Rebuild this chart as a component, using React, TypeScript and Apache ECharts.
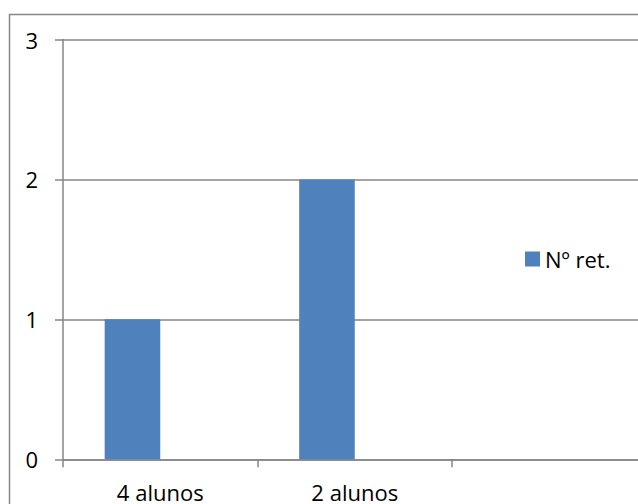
import React, { useEffect, useRef } from "react";
import * as echarts from "echarts";

const categories = ["4 alunos", "2 alunos", ""];
const retValues: (number | string)[] = [1, 2, "-"];
const emptyValues: (number | string)[] = ["-", "-", "-"];
const yTicks = { min: 0, max: 3, interval: 1 };

const FONT = "'Open Sans', Calibri, sans-serif";
const GRAY = "#868686";

export default function App() {
  const ref = useRef<HTMLDivElement>(null);

  useEffect(() => {
    if (!ref.current) return;
    const chart = echarts.init(ref.current, undefined, { renderer: "svg" });
    chart.setOption({
      animation: false,
      backgroundColor: "#ffffff",
      graphic: [
        {
          type: "rect",
          shape: { x: 9.5, y: 14.5, width: 700, height: 600 },
          style: { fill: "none", stroke: GRAY, lineWidth: 1.5 },
          silent: true,
        },
      ],
      legend: {
        data: ["Nº ret."],
        left: 525,
        top: 248,
        padding: 0,
        itemWidth: 15,
        itemHeight: 15,
        itemGap: 8,
        icon: "rect",
        textStyle: { fontFamily: FONT, fontSize: 22, color: "#000" },
      },
      // plot area runs past the right edge of the canvas
      grid: {
        left: 63,
        top: 39.5,
        width: 583.5,
        height: 419.8,
        containLabel: false,
        outerBoundsMode: "none",
      },
      xAxis: {
        type: "category",
        data: categories,
        boundaryGap: true,
        axisLine: { show: true, lineStyle: { color: GRAY, width: 1.5 } },
        axisTick: { show: true, length: 8, alignWithLabel: false, lineStyle: { color: GRAY, width: 1.5 } },
        axisLabel: { fontFamily: FONT, fontSize: 22, lineHeight: 22, color: "#000", margin: 22, interval: 0 },
        splitLine: { show: false },
      },
      yAxis: {
        type: "value",
        min: yTicks.min,
        max: yTicks.max,
        interval: yTicks.interval,
        axisLine: { show: true, lineStyle: { color: GRAY, width: 1.5 } },
        axisTick: { show: true, length: 8, lineStyle: { color: GRAY, width: 1.5 } },
        axisLabel: { fontFamily: FONT, fontSize: 22, color: "#000", margin: 25 },
        splitLine: { show: true, lineStyle: { color: GRAY, width: 1.5 } },
      },
      series: [
        {
          name: "Nº ret.",
          type: "bar",
          data: retValues,
          barGap: "0%",
          barCategoryGap: "42.86%",
          itemStyle: { color: "#4F81BD" },
        },
        {
          name: "vazio",
          type: "bar",
          data: emptyValues,
          barGap: "0%",
          barCategoryGap: "42.86%",
          itemStyle: { color: "#C0504D" },
        },
      ],
    });
    return () => chart.dispose();
  }, []);

  return (
    <div
      ref={ref}
      style={{ position: "fixed", left: 0, top: 0, width: 638, height: 504, background: "#fff" }}
    />
  );
}
